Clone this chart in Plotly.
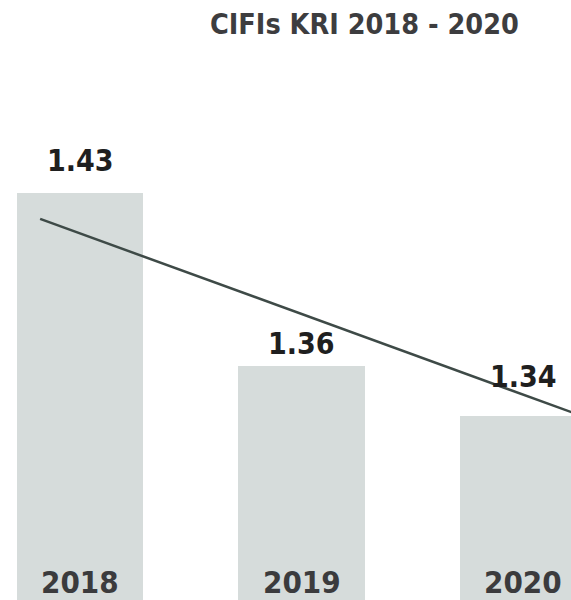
import plotly.graph_objects as go

years = ["2018", "2019", "2020"]
kri_values = [1.43, 1.36, 1.34]
value_labels = ["1.43", "1.36", "1.34"]
trend_x = [-0.18, 2.3]
trend_y = [1.4194, 1.3387]
title_text = "CIFIs KRI 2018 - 2020"

xpos = list(range(len(years)))

BAR = "#d6dcdb"
LINE = "#3e4a47"
NUM_FONT = "DejaVu Sans Condensed, DejaVu Sans, sans-serif"

fig = go.Figure()
fig.add_trace(go.Bar(x=xpos, y=kri_values, width=0.569, marker=dict(color=BAR, line=dict(width=0)),
                     hoverinfo="skip", showlegend=False))
fig.add_trace(go.Scatter(x=trend_x, y=trend_y, mode="lines", line=dict(color=LINE, width=2.5),
                         hoverinfo="skip", showlegend=False))

shifts = [32, 22, 39]
for i, (v, lab) in enumerate(zip(kri_values, value_labels)):
    fig.add_annotation(x=xpos[i], y=v, xref="x", yref="y", text=f"<b>{lab}</b>", showarrow=False,
                       yanchor="middle", yshift=shifts[i],
                       font=dict(family=NUM_FONT, size=30, color="#1f1f1f"))
for i, yr in enumerate(years):
    fig.add_annotation(x=xpos[i], y=1 - 582 / 600, xref="x", yref="paper", text=f"<b>{yr}</b>",
                       showarrow=False, yanchor="middle",
                       font=dict(family=NUM_FONT, size=31, color="#3b3b3d"))

fig.add_annotation(x=364.5 / 571, y=1 - 24 / 600, xref="paper", yref="paper", text=f"<b>{title_text}</b>",
                   showarrow=False, yanchor="middle", xanchor="center",
                   font=dict(family="DejaVu Sans Condensed, DejaVu Sans, sans-serif", size=28.5, color="#3d3d3f"))

fig.update_layout(
    width=571, height=600,
    margin=dict(l=0, r=0, t=0, b=0),
    paper_bgcolor="white", plot_bgcolor="white",
    xaxis=dict(range=[-0.3612, 2.2167], visible=False, fixedrange=True),
    yaxis=dict(range=[1.2655, 1.5078], visible=False, fixedrange=True),
    bargap=0,
)

fig.write_html("out.html", config={"displayModeBar": False},
               post_script="document.body.style.margin='0';document.body.style.overflow='hidden';")
